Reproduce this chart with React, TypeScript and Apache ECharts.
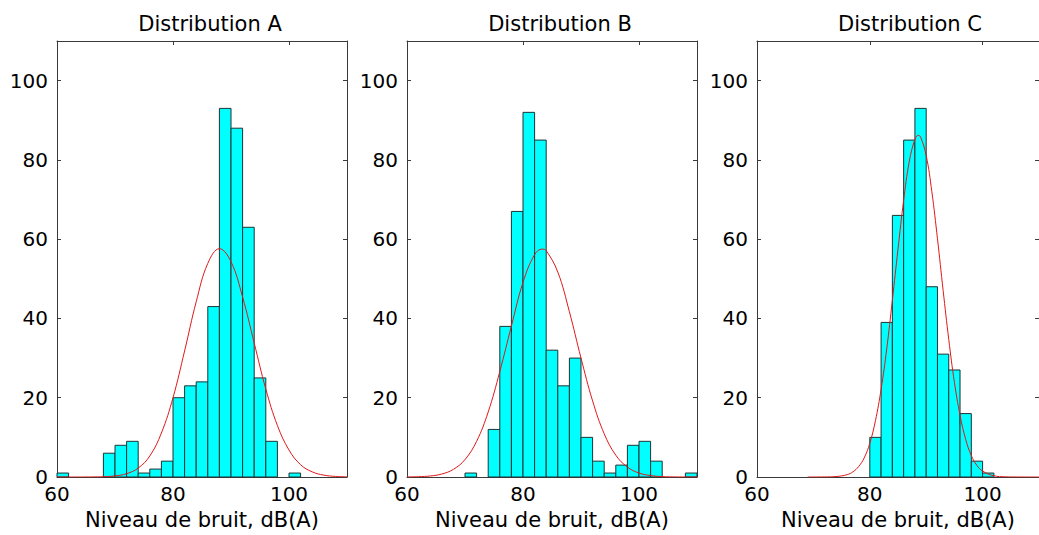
import React, { useEffect, useRef } from "react";
import * as echarts from "echarts";

// Histogram bin edges (dB(A))
const binEdges = [60, 62, 64, 66, 68, 70, 72, 74, 76, 78, 80, 82, 84, 86, 88, 90, 92, 94, 96, 98, 100, 102, 104, 106, 108, 110];

// Counts per bin
const countsA = [1, 0, 0, 0, 6, 8, 9, 1, 2, 4, 20, 23, 24, 43, 93, 88, 63, 25, 9, 0, 1, 0, 0, 0, 0];
const countsB = [0, 0, 0, 0, 0, 1, 0, 12, 38, 67, 92, 85, 32, 23, 30, 10, 4, 1, 3, 8, 9, 4, 0, 0, 1];
const countsC = [0, 0, 0, 0, 0, 0, 0, 0, 0, 0, 10, 39, 66, 85, 93, 48, 31, 27, 16, 4, 1, 0, 0, 0, 0];

// Fitted curves
const fitAx = [60, 62, 64, 66, 68, 70, 72, 74, 76, 78, 80, 82, 84, 86, 88, 90, 92, 94, 96, 98, 100, 102, 104, 106, 108, 110];
const fitAy = [0, 0, 0, 0.02, 0.08, 0.27, 0.84, 2.25, 5.3, 11.1, 20.0, 31.8, 44.2, 53.9, 57.6, 54.3, 45.4, 33.8, 22.2, 13.0, 6.8, 3.1, 1.3, 0.47, 0.15, 0.04];

const fitBx = [60, 62, 64, 66, 68, 70, 72, 74, 76, 78, 80, 82, 83.3, 84, 86, 88, 90, 92, 94, 96, 98, 100, 102, 104, 106, 108, 110];
const fitBy = [0.02, 0.08, 0.26, 0.75, 1.93, 4.4, 9.0, 16.4, 26.6, 38.1, 49.1, 56.1, 57.5, 57.1, 51.7, 41.7, 30.0, 19.2, 10.9, 5.5, 2.5, 1.0, 0.36, 0.11, 0.03, 0.01, 0];

const fitCx = [69, 70, 72, 74, 76, 77, 78, 79, 80, 81, 82, 83, 84, 85, 86, 87, 88, 88.6, 89, 90, 91, 92, 93, 94, 95, 96, 97, 98, 99, 100, 102, 104, 106, 108, 110];
const fitCy = [0, 0, 0.02, 0.11, 0.6, 1.3, 2.6, 4.8, 8.5, 14.2, 22.1, 32.3, 44.6, 57.5, 69.8, 79.6, 85.2, 86.2, 85.8, 81.1, 72.0, 60.1, 47.1, 34.7, 23.9, 15.6, 9.5, 5.4, 2.9, 1.5, 0.31, 0.05, 0.01, 0, 0];

const titles = ["Distribution A", "Distribution B", "Distribution C"];
const xAxisName = "Niveau de bruit, dB(A)";
const xMin = 60;
const xMax = 110;
const xInterval = 20;
const yMin = 0;
const yMax = 110;
const yInterval = 20;

export default function App() {
  const ref = useRef<HTMLDivElement>(null);

  useEffect(() => {
    if (!ref.current) return;
    const chart = echarts.init(ref.current, null, { renderer: "svg" });

    const panels = [
      { counts: countsA, fx: fitAx, fy: fitAy },
      { counts: countsB, fx: fitBx, fy: fitBy },
      { counts: countsC, fx: fitCx, fy: fitCy },
    ];
    const gridLefts = [57, 407, 757];
    const gridWidth = 290;
    const font = "DejaVu Sans";
    const axisColor = "#3a3a3a";

    const grids: any[] = [];
    const xAxes: any[] = [];
    const yAxes: any[] = [];
    const series: any[] = [];
    const titleArr: any[] = [];

    panels.forEach((p, i) => {
      grids.push({ left: gridLefts[i], top: 41, width: gridWidth, height: 442, containLabel: false });
      titleArr.push({
        text: titles[i],
        left: gridLefts[i] + gridWidth / 2 + 3,
        top: 8,
        textAlign: "center",
        textStyle: { fontFamily: font, fontSize: 21, fontWeight: "normal", color: "#000" },
      });
      const lineStyle = { color: axisColor, width: 1 };
      xAxes.push({
        gridIndex: i,
        type: "value",
        position: "bottom",
        min: xMin,
        max: xMax,
        interval: xInterval,
        axisLine: { show: true, onZero: false, lineStyle },
        axisTick: { show: true, inside: true, length: 4, lineStyle },
        axisLabel: { margin: 7, fontSize: 20, fontFamily: font, color: "#000", showMaxLabel: false },
        splitLine: { show: false },
        name: xAxisName,
        nameLocation: "middle",
        nameGap: 32,
        nameTextStyle: { fontFamily: font, fontSize: 21, color: "#000" },
      });
      xAxes.push({
        gridIndex: i,
        type: "value",
        position: "top",
        min: xMin,
        max: xMax,
        interval: xInterval,
        axisLine: { show: true, onZero: false, lineStyle },
        axisTick: { show: true, inside: true, length: 4, lineStyle },
        axisLabel: { show: false },
        splitLine: { show: false },
      });
      yAxes.push({
        gridIndex: i,
        type: "value",
        position: "left",
        min: yMin,
        max: yMax,
        interval: yInterval,
        axisLine: { show: true, onZero: false, lineStyle },
        axisTick: { show: true, inside: true, length: 4, lineStyle },
        axisLabel: { margin: 9, fontSize: 20, fontFamily: font, color: "#000", showMaxLabel: false },
        splitLine: { show: false },
      });
      yAxes.push({
        gridIndex: i,
        type: "value",
        position: "right",
        min: yMin,
        max: yMax,
        interval: yInterval,
        axisLine: { show: true, onZero: false, lineStyle },
        axisTick: { show: true, inside: true, length: 4, lineStyle },
        axisLabel: { show: false },
        splitLine: { show: false },
      });

      const barData = p.counts
        .map((c, k) => [binEdges[k], binEdges[k + 1], c])
        .filter((d) => d[2] > 0);

      series.push({
        type: "custom",
        xAxisIndex: i * 2,
        yAxisIndex: i * 2,
        z: 2,
        data: barData,
        encode: { x: [0, 1], y: 2 },
        renderItem: (params: any, api: any) => {
          const x0 = api.value(0);
          const x1 = api.value(1);
          const c = api.value(2);
          const p0 = api.coord([x0, 0]);
          const p1 = api.coord([x1, c]);
          return {
            type: "rect",
            shape: { x: p0[0], y: p1[1], width: p1[0] - p0[0], height: p0[1] - p1[1] },
            style: { fill: "#00ffff", stroke: "#1d3434", lineWidth: 1 },
          };
        },
      });

      series.push({
        type: "line",
        xAxisIndex: i * 2,
        yAxisIndex: i * 2,
        z: 3,
        data: p.fx.map((x, k) => [x, p.fy[k]]),
        showSymbol: false,
        smooth: 0.4,
        lineStyle: { color: "#e01818", width: 1 },
      });
    });

    chart.setOption({
      animation: false,
      backgroundColor: "#ffffff",
      title: titleArr,
      grid: grids,
      xAxis: xAxes,
      yAxis: yAxes,
      series,
    });

    return () => chart.dispose();
  }, []);

  return (
    <div
      ref={ref}
      style={{ position: "fixed", left: 0, top: 0, width: 1039, height: 535, background: "#fff" }}
    />
  );
}
